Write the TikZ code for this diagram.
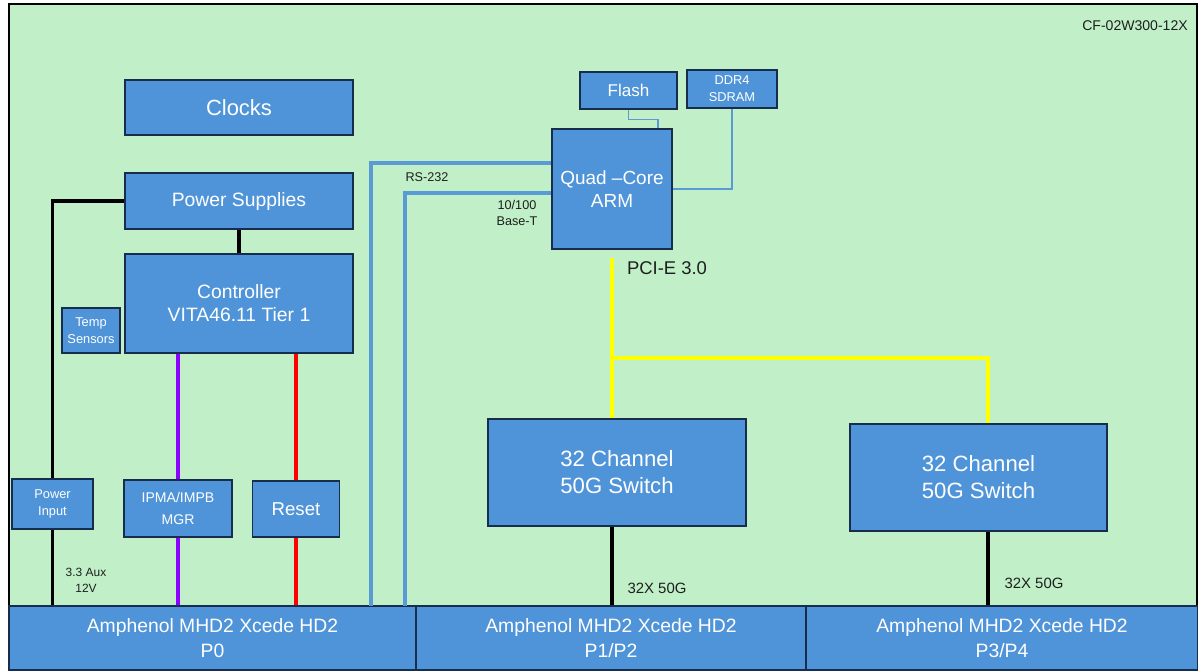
\documentclass[tikz,border=0pt]{standalone}
\usepackage{fontspec}
\setmainfont{Liberation Sans}
\usetikzlibrary{calc}
\definecolor{cfbg}{RGB}{193,240,200}
\definecolor{cffill}{RGB}{79,148,217}
\definecolor{cfedge}{RGB}{24,45,78}
\definecolor{cfeth}{RGB}{91,155,213}
\definecolor{cfipmb}{RGB}{140,0,255}
\definecolor{cfrst}{RGB}{255,0,0}
\definecolor{cfpcie}{RGB}{255,255,0}
\definecolor{cfink}{RGB}{30,30,30}
\tikzset{
  blk/.style={
    draw=cfedge, fill=cffill, line width=0.8pt, align=center,
    text=white, inner sep=1pt, font=\fontsize{11}{13}\selectfont
  },
  bigblk/.style={blk, font=\fontsize{12.6}{15.3}\selectfont},
  smallblk/.style={blk, font=\fontsize{7.3}{9.6}\selectfont},
  conn/.style={blk, line width=0.6pt, font=\fontsize{11}{14}\selectfont},
  pwr/.style={draw=black, line width=1.8pt},
  ipmb/.style={draw=cfipmb, line width=1.8pt},
  rst/.style={draw=cfrst, line width=1.8pt},
  eth/.style={draw=cfeth, line width=1.8pt},
  pcie/.style={draw=cfpcie, line width=2.3pt},
  memlink/.style={draw=cfeth, line width=0.6pt},
  anno/.style={text=cfink, align=center, inner sep=0pt, font=\fontsize{7.2}{9}\selectfont}
}
\begin{document}
\begin{tikzpicture}[x=0.2mm, y=-0.2mm]
  \useasboundingbox (0,0) rectangle (1198,670);
  \draw[fill=cfbg, line width=0.8pt] (9,4) rectangle (1197,606);
  \node[anno, font=\fontsize{8}{10}\selectfont] (part) at (1135,26) {CF-02W300-12X};

  % left column
  \node[blk, font=\fontsize{12.5}{14}\selectfont, minimum width=45.6mm, minimum height=11mm] (clk) at (239,107.5) {Clocks};
  \node[blk, minimum width=45.6mm, minimum height=11.2mm] (psu) at (239,201) {Power Supplies};
  \node[blk, minimum width=45.6mm, minimum height=19.8mm] (ctrl) at (239,303.5) {Controller\\VITA46.11 Tier 1};
  \node[smallblk, minimum width=11.6mm, minimum height=9mm] (temp) at (91,330.5) {Temp\\Sensors};
  \node[smallblk, minimum width=16.2mm, minimum height=10mm] (pin) at (52.5,504) {Power\\Input};
  \node[blk, font=\fontsize{8}{12}\selectfont, minimum width=21.6mm, minimum height=11.4mm] (ipma) at (178,508.5) {IPMA/IMPB\\MGR};
  \node[blk, font=\fontsize{10.6}{13}\selectfont, minimum width=17.4mm, minimum height=11.2mm] (rst) at (296,509) {Reset};

  % processor
  \node[blk, font=\fontsize{9.7}{12}\selectfont, minimum width=19.4mm, minimum height=7.4mm] (flash) at (628.5,90.5) {Flash};
  \node[smallblk, minimum width=18mm, minimum height=7.6mm] (ddr) at (732,89) {DDR4\\SDRAM};
  \node[blk, font=\fontsize{10.8}{13.5}\selectfont, minimum width=24mm, minimum height=24mm] (arm) at (612,189) {Quad –Core\\ARM};

  % switches
  \node[bigblk, minimum width=51.6mm, minimum height=21.4mm] (swa) at (617,472.5) {32 Channel\\50G Switch};
  \node[bigblk, minimum width=51.4mm, minimum height=21.4mm] (swb) at (978.5,477.5) {32 Channel\\50G Switch};

  % backplane connectors
  \node[conn, minimum width=81.4mm, minimum height=12.8mm] (pz) at (212.5,638) {Amphenol MHD2 Xcede HD2\\P0};
  \node[conn, minimum width=78mm, minimum height=12.8mm] (pa) at (611,638) {Amphenol MHD2 Xcede HD2\\P1/P2};
  \node[conn, minimum width=78.4mm, minimum height=12.8mm] (pb) at (1002,638) {Amphenol MHD2 Xcede HD2\\P3/P4};

  \coordinate (rsx) at (371,606);
  \coordinate (btx) at (405,606);
  \coordinate (br) at (612,358);

  \draw[pwr] (psu.west) -| (pin.north);
  \draw[pwr] (pin.south) -- (pin.south |- pz.north);
  \draw[pwr] (psu.south) -- (ctrl.north);
  \draw[ipmb] (ipma.north |- ctrl.south) -- (ipma.north);
  \draw[ipmb] (ipma.south) -- (ipma.south |- pz.north);
  \draw[rst] (rst.north |- ctrl.south) -- (rst.north);
  \draw[rst] (rst.south) -- (rst.south |- pz.north);
  \draw[eth] ([yshift=5.2mm]arm.west) -| (rsx);
  \draw[eth] ([yshift=-0.8mm]arm.west) -| (btx);
  \draw[memlink] (flash.south) -- ++(0,10) -| ([xshift=9.2mm]arm.north);
  \draw[memlink] (ddr.south) |- (arm.east);
  \draw[pcie] ([yshift=-1.6mm]arm.south) -- (arm.south |- swa.north);
  \draw[pcie] (br) -| ([xshift=1.9mm]swb.north);
  \draw[pwr] (arm.south |- swa.south) -- (arm.south |- pa.north);
  \draw[pwr] ([xshift=1.9mm]swb.south) -- ([xshift=1.9mm]swb.south |- pb.north);

  \node[anno] (rslbl) at (427,177) {RS-232};
  \node[anno] (btlbl) at (517,213) {10/100\\Base-T};
  \node[anno, font=\fontsize{10.5}{12}\selectfont] (pcilbl) at (667,268) {PCI-E 3.0};
  \node[anno, font=\fontsize{6.8}{9}\selectfont] (auxlbl) at (86,580) {3.3 Aux\\12V};
  \node[anno, font=\fontsize{8.5}{10}\selectfont] (lnka) at (657,588) {32X 50G};
  \node[anno, font=\fontsize{8.5}{10}\selectfont] (lnkb) at (1034,583) {32X 50G};
\end{tikzpicture}
\end{document}
